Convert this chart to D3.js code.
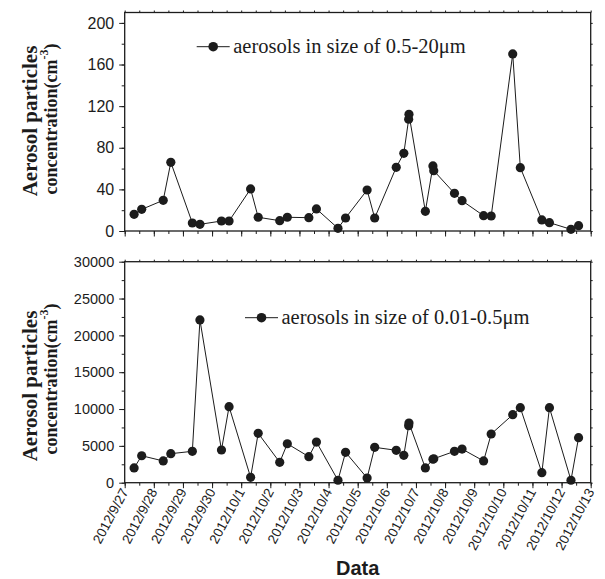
<!DOCTYPE html>
<html>
<head>
<meta charset="utf-8">
<script src="https://cdn.jsdelivr.net/npm/d3@7"></script>
<style>
  html, body { margin: 0; padding: 0; background: #fff; }
  svg { display: block; }
</style>
</head>
<body>
<svg id="chart" width="605" height="579"></svg>
<script>
// ---------- DATA ----------
const sampleTimes = [
  "2012-09-27 07:45", "2012-09-27 14:00",
  "2012-09-28 07:45", "2012-09-28 14:00",
  "2012-09-29 07:45", "2012-09-29 14:00",
  "2012-09-30 07:45", "2012-09-30 14:00",
  "2012-10-01 07:45", "2012-10-01 14:00",
  "2012-10-02 07:45", "2012-10-02 14:00",
  "2012-10-03 07:45", "2012-10-03 14:00",
  "2012-10-04 07:45", "2012-10-04 14:00",
  "2012-10-05 07:45", "2012-10-05 14:00",
  "2012-10-06 07:45", "2012-10-06 14:00", "2012-10-06 18:00", "2012-10-06 18:15",
  "2012-10-07 07:45", "2012-10-07 14:00", "2012-10-07 14:40",
  "2012-10-08 07:45", "2012-10-08 14:00",
  "2012-10-09 07:45", "2012-10-09 14:00",
  "2012-10-10 07:45", "2012-10-10 14:00",
  "2012-10-11 07:45", "2012-10-11 14:00",
  "2012-10-12 07:45", "2012-10-12 14:00"
];
const coarseValues = [16, 20.8, 29.5, 66, 7.7, 6.4, 9.6, 9.6, 40.4, 13.2,
  9.9, 13.2, 12.8, 21.2, 2.6, 12.5, 39.4, 12.5,
  61.2, 74.7, 107.4, 112.2, 18.9, 62.5, 58, 36.2, 29.1,
  14.7, 14.4, 170.2, 60.9, 10.6, 8, 1.6, 5.1];
const fineValues = [2000, 3660, 2950, 3940, 4260, 22090, 4440, 10320, 730, 6700,
  2770, 5290, 3530, 5520, 330, 4130, 640, 4800,
  4400, 3720, 7740, 8100, 2000, 3180, 3250, 4260, 4570,
  2950, 6610, 9230, 10180, 1360, 10180, 330, 6110];
const dateTickLabels = ["2012/9/27", "2012/9/28", "2012/9/29", "2012/9/30",
  "2012/10/1", "2012/10/2", "2012/10/3", "2012/10/4", "2012/10/5", "2012/10/6",
  "2012/10/7", "2012/10/8", "2012/10/9", "2012/10/10", "2012/10/11",
  "2012/10/12", "2012/10/13"];
const coarseTicks = [0, 40, 80, 120, 160, 200];
const fineTicks = [0, 5000, 10000, 15000, 20000, 25000, 30000];
const coarseLegend = "aerosols in size of 0.5-20\u03BCm";
const fineLegend = "aerosols in size of 0.01-0.5\u03BCm";
const yTitle1 = "Aerosol particles";
const yTitle2 = "concentration(cm";
const xTitle = "Data";

// ---------- SETUP ----------
const svg = d3.select("#chart");
const parseT = d3.timeParse("%Y-%m-%d %H:%M");
const parseD = d3.timeParse("%Y/%m/%d");
const times = sampleTimes.map(parseT);
const tickDates = dateTickLabels.map(parseD);

const X0 = 124.7, X1 = 590.7;
const x = d3.scaleTime()
  .domain([tickDates[0], tickDates[tickDates.length - 1]])
  .range([X0, X1]);

const halfDays = d3.timeHour.every(12).range(tickDates[0], d3.timeHour.offset(tickDates[tickDates.length - 1], 1));

const sans = "'Liberation Sans', Arial, sans-serif";
const serif = "'Liberation Serif', 'Times New Roman', serif";
const ink = "#1c1c1c";

function panel(cfg) {
  const y = d3.scaleLinear().domain(cfg.domain).range([cfg.yBottom, cfg.yTop]);
  const g = svg.append("g");

  const minorY = d3.range(cfg.domain[0], cfg.domain[1] + 1e-9, cfg.minorStep);

  g.append("g").attr("transform", `translate(0,${cfg.yBottom})`)
    .call(d3.axisBottom(x).tickValues(halfDays).tickSize(3).tickFormat(""));
  g.append("g").attr("transform", `translate(0,${cfg.yBottom})`)
    .call(d3.axisBottom(x).tickValues(tickDates).tickSize(5.5).tickFormat(""));
  g.append("g").attr("transform", `translate(0,${cfg.yTop})`)
    .call(d3.axisTop(x).tickValues(halfDays).tickSize(2).tickFormat(""));
  g.append("g").attr("transform", `translate(${X0},0)`)
    .call(d3.axisLeft(y).tickValues(minorY).tickSize(3).tickFormat(""));
  const lMajor = g.append("g").attr("transform", `translate(${X0},0)`)
    .call(d3.axisLeft(y).tickValues(cfg.ticks).tickSize(5.5).tickPadding(5).tickFormat(d3.format("d")));
  g.append("g").attr("transform", `translate(${X1},0)`)
    .call(d3.axisRight(y).tickValues(minorY).tickSize(2).tickFormat(""));

  g.selectAll(".domain").remove();
  g.selectAll(".tick line").attr("stroke", ink).attr("stroke-width", 1);
  lMajor.selectAll(".tick text")
    .attr("font-family", sans).attr("font-size", cfg.tickFont).attr("fill", ink);

  g.append("rect")
    .attr("x", X0).attr("y", cfg.yTop)
    .attr("width", X1 - X0).attr("height", cfg.yBottom - cfg.yTop)
    .attr("fill", "none").attr("stroke", ink).attr("stroke-width", 1.3);

  const line = d3.line().x((d, i) => x(times[i])).y(d => y(d));
  g.append("path").datum(cfg.values)
    .attr("d", line).attr("fill", "none").attr("stroke", ink).attr("stroke-width", 1);
  g.selectAll("circle.pt").data(cfg.values).enter().append("circle")
    .attr("class", "pt")
    .attr("cx", (d, i) => x(times[i])).attr("cy", d => y(d))
    .attr("r", 4.6).attr("fill", ink);

  const lg = g.append("g");
  lg.append("line").attr("x1", cfg.legX).attr("x2", cfg.legX + 33)
    .attr("y1", cfg.legY).attr("y2", cfg.legY).attr("stroke", ink).attr("stroke-width", 1);
  lg.append("circle").attr("cx", cfg.legX + 16.5).attr("cy", cfg.legY).attr("r", 4.8).attr("fill", ink);
  lg.append("text").attr("x", cfg.legX + 36.5).attr("y", cfg.legY + 6)
    .attr("font-family", serif).attr("font-size", 20.5).attr("fill", ink)
    .text(cfg.legend);

  g.append("text")
    .attr("transform", `translate(${37},${cfg.title1Y}) rotate(-90)`)
    .attr("text-anchor", "middle")
    .attr("font-family", serif).attr("font-weight", "bold").attr("font-size", 21).attr("fill", ink)
    .text(yTitle1);
  const t2 = g.append("text")
    .attr("transform", `translate(${57},${cfg.title2Y}) rotate(-90)`)
    .attr("text-anchor", "middle")
    .attr("font-family", serif).attr("font-weight", "bold").attr("font-size", 18).attr("fill", ink);
  t2.append("tspan").text(yTitle2);
  t2.append("tspan").attr("dy", -9).attr("font-size", 12).text("-3");
  t2.append("tspan").attr("dy", 9).text(")");

  return { g, y };
}

panel({
  domain: [0, 210], yBottom: 231, yTop: 12.5, ticks: coarseTicks, minorStep: 20,
  values: coarseValues, legend: coarseLegend, legX: 196.7, legY: 46.7,
  tickFont: 16, title1Y: 121, title2Y: 119
});

panel({
  domain: [0, 30000], yBottom: 482.7, yTop: 261.7, ticks: fineTicks, minorStep: 2500,
  values: fineValues, legend: fineLegend, legX: 245, legY: 317.7,
  tickFont: 14.5, title1Y: 386, title2Y: 379
});

svg.append("g").selectAll("text.xl").data(dateTickLabels).enter().append("text")
  .attr("class", "xl")
  .attr("transform", (d, i) => `translate(${x(tickDates[i]) + 4},${482.7 + 9}) rotate(-62)`)
  .attr("text-anchor", "end")
  .attr("font-family", sans).attr("font-size", 13.5).attr("fill", ink)
  .text(d => d);

svg.append("text")
  .attr("x", (X0 + X1) / 2).attr("y", 575)
  .attr("text-anchor", "middle")
  .attr("font-family", sans).attr("font-weight", "bold").attr("font-size", 20).attr("fill", ink)
  .text(xTitle);
</script>
</body>
</html>
